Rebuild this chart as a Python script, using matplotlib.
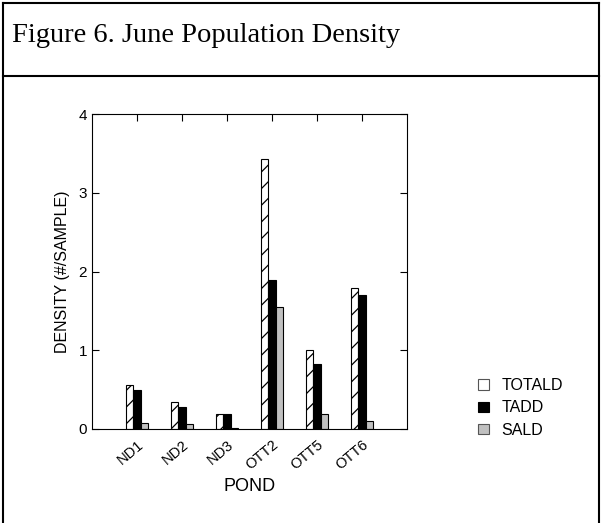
import matplotlib
matplotlib.use("Agg")
import matplotlib.pyplot as plt
import numpy as np
from matplotlib.patches import Patch
from matplotlib.lines import Line2D

ponds = ["ND1", "ND2", "ND3", "OTT2", "OTT5", "OTT6"]
totald = [0.56, 0.34, 0.19, 3.43, 1.00, 1.79]
tadd = [0.50, 0.28, 0.19, 1.89, 0.82, 1.70]
sald = [0.07, 0.06, 0.01, 1.55, 0.19, 0.10]
series_names = ["TOTALD", "TADD", "SALD"]

plt.rcParams["font.family"] = ["Liberation Sans", "DejaVu Sans"]
plt.rcParams["hatch.linewidth"] = 0.9

fig = plt.figure(figsize=(6.02, 5.23), dpi=100)
ax = fig.add_axes([92 / 602, 1 - 429 / 523, 315 / 602, 315 / 523])

x = np.arange(1, len(ponds) + 1)
w = 0.17
ax.bar(x - w, totald, w, color="white", edgecolor="black", linewidth=0.8, hatch="//")
ax.bar(x, tadd, w, color="black", edgecolor="black", linewidth=0.8)
ax.bar(x + w, sald, w, color="#c0c0c0", edgecolor="black", linewidth=0.8)

ax.set_xlim(0, len(ponds) + 1)
ax.set_ylim(0, 4)
ax.set_yticks([0, 1, 2, 3, 4])
ax.set_xticks(x)
ax.set_xticklabels(ponds, rotation=40, ha="right", va="top",
                   rotation_mode="anchor", fontsize=10.5)
ax.tick_params(axis="both", direction="in", length=5, width=0.8,
               top=True, right=True, labelsize=11)
ax.tick_params(axis="x", pad=6, labelsize=10.5)
for s in ax.spines.values():
    s.set_linewidth(0.8)

ax.set_ylabel("DENSITY (#/SAMPLE)", fontsize=11.5, labelpad=6)
ax.set_xlabel("POND", fontsize=13, labelpad=4)

handles = [Patch(facecolor="white", edgecolor="#555555", linewidth=0.8),
           Patch(facecolor="black", edgecolor="black", linewidth=0.8),
           Patch(facecolor="#c0c0c0", edgecolor="#555555", linewidth=0.8)]
fig.legend(handles, series_names, loc="center left",
           bbox_to_anchor=(464 / 602, 1 - 408 / 523), frameon=False,
           fontsize=11.5, handlelength=0.65, handleheight=0.65,
           handletextpad=0.8, labelspacing=0.45)

# outer frame (left, top, right) and title box
def fline(xs, ys):
    fig.add_artist(Line2D([v / 602 for v in xs], [1 - v / 523 for v in ys],
                          transform=fig.transFigure, color="black", linewidth=1.5))

fline([3, 3], [2.5, 523])
fline([599, 599], [2.5, 523])
fline([3, 599], [2.5, 2.5])
fline([3, 599], [75.5, 75.5])

fig.text(12 / 602, 1 - 42 / 523, "Figure 6. June Population Density",
         family="Liberation Serif", fontsize=20.5, va="baseline")

fig.savefig("out.png", dpi=100)
